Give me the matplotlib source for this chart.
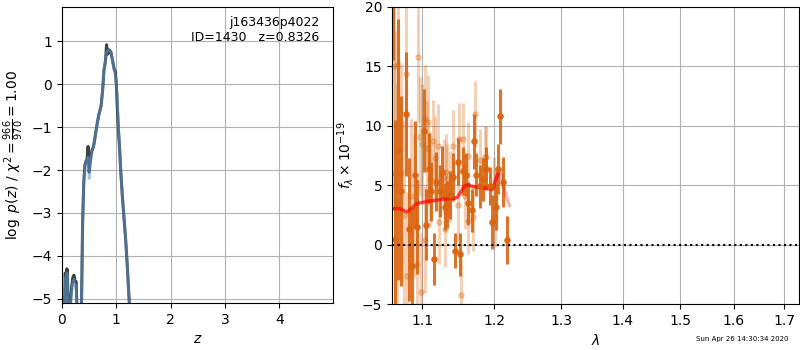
import matplotlib
matplotlib.use("Agg")
import matplotlib.pyplot as plt
from matplotlib.ticker import NullLocator, FixedLocator, FixedFormatter
import numpy as np

# ---- p(z) data ----
z_grid = [0.00, 0.03, 0.045, 0.06, 0.075, 0.09, 0.10, 0.115, 0.135, 0.16, 0.18, 0.20, 0.22, 0.24,
          0.26, 0.28, 0.31, 0.34, 0.36, 0.38, 0.40, 0.42, 0.44, 0.46, 0.48, 0.49, 0.50, 0.51,
          0.53, 0.55, 0.58, 0.60, 0.63, 0.65, 0.68, 0.72, 0.75, 0.77, 0.80, 0.82, 0.84, 0.87,
          0.90, 0.93, 0.96, 0.98, 1.00, 1.02, 1.04, 1.06, 1.08, 1.11, 1.14, 1.17, 1.20, 1.23, 1.26, 1.30]
logpz_dark = [-7.0, -7.0, -5.3, -4.4, -4.9, -4.3, -4.4, -5.3, -6.0, -5.0, -4.7, -4.5, -4.45, -4.6,
              -4.6, -5.4, -7.0, -7.0, -5.0, -3.2, -2.3, -1.9, -1.8, -1.75, -1.45, -1.8, -2.05, -1.9,
              -1.7, -1.55, -1.45, -1.3, -1.05, -0.9, -0.7, -0.5, -0.1, 0.3, 0.55, 0.92, 0.7, 0.8,
              0.75, 0.55, 0.35, 0.3, 0.0, -0.6, -1.1, -1.5, -2.0, -2.6, -3.1, -3.6, -4.2, -4.9, -5.6, -7.0]
logpz_blue = [-7.0, -7.0, -5.4, -4.5, -5.0, -4.4, -4.5, -5.4, -6.0, -5.1, -4.8, -4.6, -4.55, -4.7,
              -4.7, -5.5, -7.0, -7.0, -5.0, -3.2, -2.3, -1.95, -1.82, -1.78, -1.7, -1.95, -2.2, -2.0,
              -1.75, -1.6, -1.45, -1.3, -1.05, -0.9, -0.7, -0.5, -0.1, 0.3, 0.55, 0.75, 0.78, 0.8,
              0.75, 0.55, 0.35, 0.2, 0.0, -0.45, -1.0, -1.5, -2.0, -2.6, -3.1, -3.6, -4.2, -4.9, -5.6, -7.0]

# ---- spectrum data (wavelength in micron, flux x1e-19) ----
wave_a = [1.062, 1.065, 1.069, 1.073, 1.079, 1.083, 1.087, 1.091, 1.094, 1.102, 1.105, 1.109,
          1.112, 1.116, 1.119, 1.124, 1.127, 1.131, 1.134, 1.138, 1.142, 1.145, 1.148, 1.152,
          1.156, 1.160, 1.163, 1.168, 1.171, 1.174, 1.179, 1.183, 1.188, 1.193, 1.197, 1.202,
          1.205, 1.208, 1.213, 1.218]
flux_a = [24.0, 0.5, 8.0, 4.5, 11.0, 1.3, -1.8, 5.9, 1.5, 9.6, 1.7, 6.4,
          4.5, -1.2, 5.3, 4.5, 6.1, 3.2, 3.4, 4.2, 5.7, -0.5, 7.0, -0.8,
          6.2, 5.9, 3.5, 2.9, 8.7, 5.9, 4.9, 5.5, 6.4, 4.9, 1.9, 3.2,
          6.4, 10.8, 5.3, 0.4]
err_a = [8.5, 10.0, 11.0, 8.0, 5.2, 6.0, 5.0, 4.5, 4.0, 3.5, 3.0, 3.0,
         2.5, 2.2, 2.5, 2.2, 2.2, 2.0, 2.0, 2.0, 2.0, 1.5, 2.0, 1.8,
         2.0, 1.8, 1.8, 1.8, 2.3, 1.8, 1.8, 1.8, 1.8, 1.6, 2.3, 2.0,
         2.1, 2.3, 2.1, 2.0]

wave_b = [1.063, 1.065, 1.067, 1.069, 1.072, 1.076, 1.079, 1.080, 1.085, 1.090, 1.094, 1.095,
          1.097, 1.098, 1.100, 1.104, 1.104, 1.106, 1.108, 1.110, 1.114, 1.117, 1.121, 1.123,
          1.129, 1.131, 1.132, 1.134, 1.138, 1.142, 1.149, 1.150, 1.153, 1.155, 1.159, 1.162,
          1.163, 1.170, 1.172, 1.180, 1.186, 1.188, 1.199, 1.201, 1.201]
flux_b = [15.0, 6.0, 3.5, 15.2, 6.0, 2.5, 14.4, -2.6, 4.1, 3.2, -1.6, 15.8,
          9.1, -4.0, 8.5, 10.6, 0.4, 8.1, 10.3, 5.5, 8.7, 7.3, 8.3, 1.9,
          5.7, 1.3, 6.1, 5.5, 4.9, 8.3, 3.3, 8.9, -4.2, 8.9, 4.1, 7.5,
          2.0, 2.3, 11.0, 7.1, 7.4, 7.4, 4.9, 3.9, 2.3]
err_b = [12.0, 12.0, 10.0, 10.0, 9.0, 8.0, 7.0, 7.0, 6.5, 6.0, 5.5, 5.5,
         5.0, 5.0, 5.0, 4.5, 4.5, 4.0, 4.0, 4.0, 3.5, 3.5, 3.5, 3.5,
         3.2, 3.2, 3.2, 3.0, 3.0, 3.0, 3.0, 3.0, 3.0, 3.0, 2.8, 2.8,
         2.8, 2.8, 2.8, 2.6, 2.6, 2.6, 2.5, 2.5, 2.5]

wave_m1 = [1.061, 1.066, 1.071, 1.075, 1.080, 1.085, 1.090, 1.095, 1.100, 1.108, 1.115, 1.125,
           1.135, 1.143, 1.148, 1.152, 1.157, 1.162, 1.168, 1.175, 1.183, 1.190, 1.197, 1.201, 1.205]
flux_m1 = [3.0, 3.05, 3.05, 2.9, 2.75, 3.0, 3.3, 3.5, 3.55, 3.65, 3.7, 3.8,
           3.85, 3.9, 4.0, 4.4, 4.9, 5.05, 4.9, 4.85, 4.8, 4.75, 4.65, 5.3, 6.0]
wave_m2 = [1.195, 1.199, 1.203, 1.207, 1.210, 1.214, 1.218, 1.222]
flux_m2 = [4.7, 4.8, 5.6, 6.3, 5.9, 4.8, 3.9, 3.3]

orange = '#da650f'

fig = plt.figure(figsize=(8, 3.5), dpi=100)

# ---- left panel: p(z) ----
ax1 = fig.add_axes([0.0775, 0.134, 0.339, 0.846])
ax1.plot(z_grid, logpz_dark, color='k', alpha=0.75, lw=2.2)
ax1.plot(z_grid, logpz_blue, color='#5b9bd5', alpha=0.55, lw=2.0)
ax1.set_xlim(0, 4.99)
ax1.set_ylim(-5.1, 1.8)
ax1.set_xticks([0, 1, 2, 3, 4])
ax1.set_yticks([-5, -4, -3, -2, -1, 0, 1])
ax1.grid(True)
ax1.set_xlabel(r'$z$')
ax1.set_ylabel(r'$\log\ p(z)$ / $\chi^2=\frac{966}{970}=1.00$')
ax1.text(0.95, 0.97, 'j163436p4022\nID=1430   z=0.8326', transform=ax1.transAxes,
         ha='right', va='top', fontsize=9)

# ---- right panel: spectrum ----
ax2 = fig.add_axes([0.49, 0.131, 0.509, 0.849])
ax2.errorbar(wave_b, flux_b, yerr=err_b, color=orange, alpha=0.3, marker='.', ms=7.5,
             linestyle='None', elinewidth=2.2)
ax2.errorbar(wave_a, flux_a, yerr=err_a, color=orange, alpha=0.9, marker='.', ms=7.5,
             linestyle='None', elinewidth=2.2)
ax2.plot(wave_m2, flux_m2, color='r', alpha=0.3, lw=2.5)
ax2.plot(wave_m1, flux_m1, color='r', alpha=0.7, lw=2.5)
ax2.axhline(0, color='k', linestyle=':', lw=1.5)
ax2.set_xscale('log')
ax2.set_xlim(1.061, 1.731)
ax2.set_ylim(-5, 20)
ax2.xaxis.set_major_locator(FixedLocator([1.1, 1.2, 1.3, 1.4, 1.5, 1.6, 1.7]))
ax2.xaxis.set_major_formatter(FixedFormatter(['1.1', '1.2', '1.3', '1.4', '1.5', '1.6', '1.7']))
ax2.xaxis.set_minor_locator(NullLocator())
ax2.set_yticks([-5, 0, 5, 10, 15, 20])
ax2.grid(True)
ax2.set_xlabel(r'$\lambda$')
ax2.set_ylabel(r'$f_\lambda\times10^{-19}$')

fig.text(0.985, 0.022, 'Sun Apr 26 14:30:34 2020', ha='right', va='bottom', fontsize=5)

fig.savefig('out.png', dpi=100)
